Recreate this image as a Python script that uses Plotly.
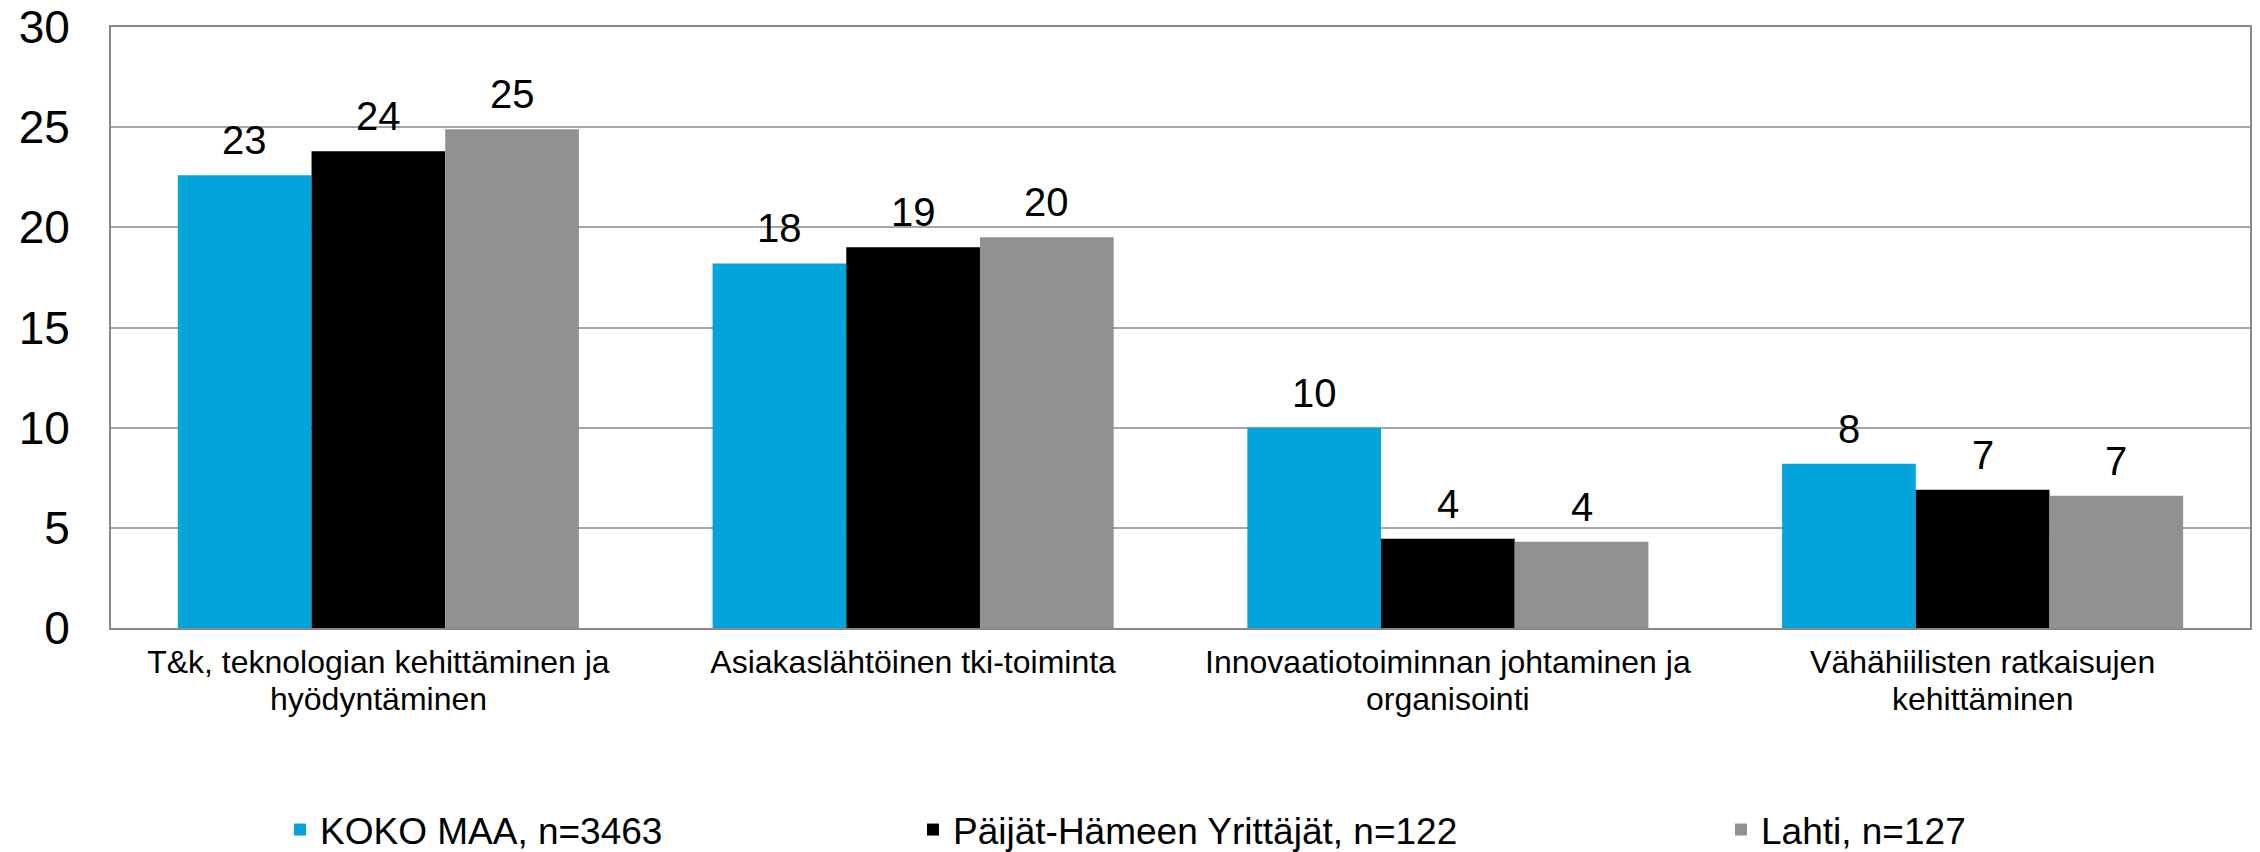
import plotly.graph_objects as go

# ---- data ----
cat_line1 = ["T&k, teknologian kehittäminen ja", "Asiakaslähtöinen tki-toiminta",
             "Innovaatiotoiminnan johtaminen ja", "Vähähiilisten ratkaisujen"]
cat_line2 = ["hyödyntäminen", "", "organisointi", "kehittäminen"]
series_names = ["KOKO MAA, n=3463", "Päijät-Hämeen Yrittäjät, n=122", "Lahti, n=127"]
koko_maa = [22.6, 18.2, 10.0, 8.2]
paijat_hame = [23.8, 19.0, 4.45, 6.9]
lahti = [24.9, 19.5, 4.3, 6.6]
y_ticks = [0, 5, 10, 15, 20, 25, 30]

series_values = [koko_maa, paijat_hame, lahti]
colors = ["#02A4DA", "#000000", "#919191"]
legends = ["legend", "legend2", "legend3"]
FONT = "Arial, 'Liberation Sans', sans-serif"
BARGAP = 0.25

# page body has an 8px margin -> figure origin sits at page (8, 8)
W, H = 2252, 860
ML, MR, MT = 103, 10, 19
PLOT_BOTTOM = 620
MB = H - PLOT_BOTTOM
PW = W - ML - MR
PH = PLOT_BOTTOM - MT

x_idx = list(range(len(cat_line1)))

fig = go.Figure()
for name, vals, col, lg in zip(series_names, series_values, colors, legends):
    fig.add_trace(go.Bar(
        x=x_idx, y=vals, name=name, marker=dict(color=col, line=dict(width=0)),
        legend=lg, hoverinfo="y+name",
    ))

# value labels above bars
n = len(series_values)
bw = (1 - BARGAP) / n
for j, vals in enumerate(series_values):
    for i, v in enumerate(vals):
        fig.add_annotation(
            x=i + (j - (n - 1) / 2) * bw, y=v, xref="x", yref="y",
            text=f"{v:.0f}", showarrow=False, yanchor="bottom",
            yshift=11, font=dict(family=FONT, size=40, color="#000000"),
        )

# second line of category labels
for i, t in enumerate(cat_line2):
    if t:
        fig.add_annotation(
            x=i, y=0, xref="x", yref="y", text=t, showarrow=False,
            yanchor="top", yshift=-51, font=dict(family=FONT, size=32, color="#000000"),
        )

legend_left_px = [280, 913, 1721]  # page px of legend entries
legend_center_px = 830            # page px
leg_y = -(legend_center_px - 8 - PLOT_BOTTOM) / PH
leg_common = dict(orientation="h", xanchor="left", y=leg_y, yanchor="middle",
                  font=dict(family=FONT, size=37, color="#000000"), bgcolor="rgba(0,0,0,0)")

fig.update_layout(
    width=W, height=H,
    margin=dict(l=ML, r=MR, t=MT, b=MB, autoexpand=False),
    paper_bgcolor="#FFFFFF", plot_bgcolor="#FFFFFF",
    barmode="group", bargap=BARGAP, bargroupgap=0,
    font=dict(family=FONT, color="#000000"),
    showlegend=True,
    legend=dict(x=(legend_left_px[0] - 8 - ML) / PW, **leg_common),
    legend2=dict(x=(legend_left_px[1] - 8 - ML) / PW, **leg_common),
    legend3=dict(x=(legend_left_px[2] - 8 - ML) / PW, **leg_common),
    xaxis=dict(
        range=[-0.5, len(cat_line1) - 0.5], tickmode="array", tickvals=x_idx, ticktext=cat_line1,
        tickfont=dict(family=FONT, size=32, color="#000000"), ticks="", showgrid=False,
        showline=True, linecolor="#898989", linewidth=2, mirror=True, zeroline=False,
        ticklabelstandoff=5, ticklabeloverflow="allow",
    ),
    yaxis=dict(
        range=[0, 30], tickmode="array", tickvals=y_ticks,
        tickfont=dict(family=FONT, size=46, color="#000000"), ticks="",
        showgrid=True, gridcolor="#A6A6A6", gridwidth=2,
        showline=True, linecolor="#898989", linewidth=2, mirror=True, zeroline=False,
        ticklabelstandoff=30, ticklabeloverflow="allow",
    ),
)

fig.write_html("out.html")
